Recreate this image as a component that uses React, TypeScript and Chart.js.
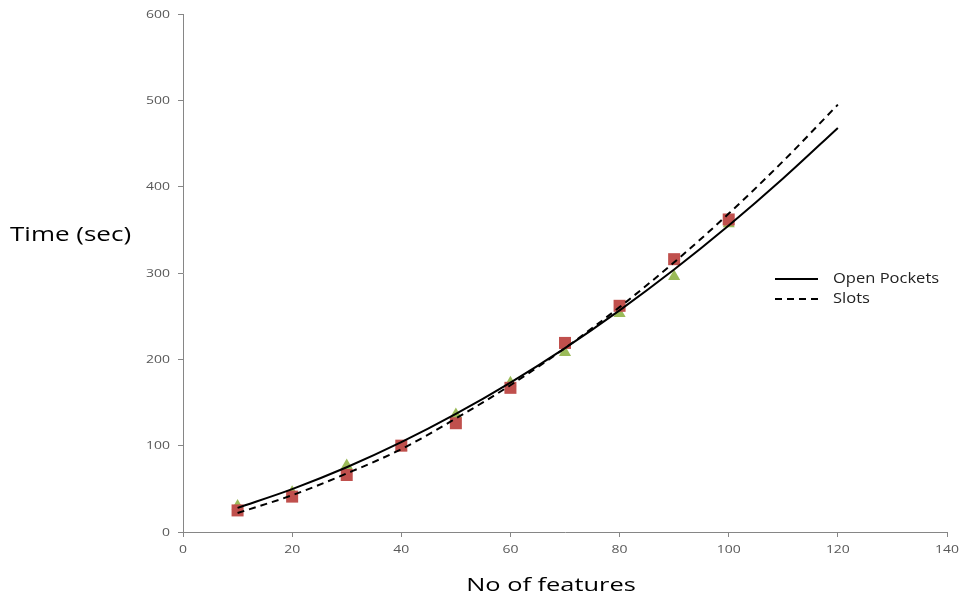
import React, { useEffect, useRef } from "react";
import { Chart, registerables } from "chart.js";

Chart.register(...registerables);

const xFeatures = [10, 20, 30, 40, 50, 60, 70, 80, 90, 100];
const openPocketsPoints = [30, 46, 77, 98, 136, 173, 208, 253, 296, 357];
const slotsPoints = [25, 41, 66, 100, 126, 167, 219, 262, 316, 362];

const trendX = [10, 20, 30, 40, 50, 60, 70, 80, 90, 100, 110, 120];
const openPocketsTrend = [28, 49.7, 75, 104, 136.7, 173, 213, 256.7, 304, 355, 409.7, 468];
const slotsTrend = [22, 42.6, 67.8, 96, 131.5, 170, 213, 260.5, 312.4, 368.8, 429.7, 495];

const xTicks = [0, 20, 40, 60, 80, 100, 120, 140];
const yTicks = [0, 100, 200, 300, 400, 500, 600];

const seriesNames = ["Open Pockets", "Slots"];
const yTitle = "Time (sec)";
const xTitle = "No of features";

const FONT = "'Open Sans', 'Noto Sans', sans-serif";

function drawText(ctx: any, text: string, x: number, y: number, align: string, font: string, sx: number, color: string) {
  ctx.save();
  ctx.font = font;
  ctx.fillStyle = color;
  ctx.textBaseline = "middle";
  ctx.textAlign = "left";
  const w = ctx.measureText(text).width * sx;
  let left = x;
  if (align === "center") left = x - w / 2;
  else if (align === "right") left = x - w;
  ctx.translate(left, y);
  ctx.scale(sx, 1);
  ctx.fillText(text, 0, 0);
  ctx.restore();
}

export default function App() {
  const ref = useRef<HTMLCanvasElement | null>(null);

  useEffect(() => {
    if (!ref.current) return;
    const toXY = (xs: number[], ys: number[]) => xs.map((x, i) => ({ x, y: ys[i] }));

    const overlay = {
      id: "overlay",
      afterDraw(chart: any) {
        const ctx = chart.ctx;
        const xs = chart.scales.x;
        const ys = chart.scales.y;
        const tickFont = `11px ${FONT}`;
        xTicks.forEach((v) => {
          drawText(ctx, String(v), xs.getPixelForValue(v), 549.5, "center", tickFont, 1.27, "#595959");
        });
        yTicks.forEach((v) => {
          drawText(ctx, String(v), 170, ys.getPixelForValue(v) + 0.5, "right", tickFont, 1.27, "#595959");
        });

        drawText(ctx, yTitle, 10, 235, "left", `20px ${FONT}`, 1.3, "#000");
        drawText(ctx, xTitle, 551, 586, "center", `18px ${FONT}`, 1.41, "#000");

        const rows = [
          { y: 279, dash: [] as number[] },
          { y: 299, dash: [7, 5] },
        ];
        rows.forEach((r, i) => {
          ctx.save();
          ctx.beginPath();
          ctx.setLineDash(r.dash);
          ctx.strokeStyle = "#000";
          ctx.lineWidth = 2;
          ctx.moveTo(775, r.y);
          ctx.lineTo(818, r.y);
          ctx.stroke();
          ctx.restore();
          drawText(ctx, seriesNames[i], 833, r.y, "left", `14px ${FONT}`, 1.18, "#222");
        });
      },
    };

    const chart = new Chart(ref.current, {
      type: "scatter",
      data: {
        datasets: [
          {
            type: "line",
            label: seriesNames[0],
            data: toXY(trendX, openPocketsTrend),
            borderColor: "#000",
            borderWidth: 2,
            pointRadius: 0,
            cubicInterpolationMode: "monotone",
            fill: false,
            order: 0,
          } as any,
          {
            type: "line",
            label: seriesNames[1],
            data: toXY(trendX, slotsTrend),
            borderColor: "#000",
            borderWidth: 2,
            borderDash: [7, 5],
            pointRadius: 0,
            cubicInterpolationMode: "monotone",
            fill: false,
            order: 1,
          } as any,
          {
            label: "Open Pockets data",
            data: toXY(xFeatures, openPocketsPoints),
            pointStyle: "triangle",
            pointRadius: 7,
            backgroundColor: "#9bbb59",
            borderColor: "#9bbb59",
            borderWidth: 0,
            order: 3,
          } as any,
          {
            label: "Slots data",
            data: toXY(xFeatures, slotsPoints),
            pointStyle: "rect",
            pointRadius: 8.5,
            backgroundColor: "#c0504d",
            borderColor: "#c0504d",
            borderWidth: 0,
            order: 2,
          } as any,
        ],
      },
      options: {
        animation: false,
        responsive: false,
        maintainAspectRatio: false,
        layout: { padding: { left: 0, right: 17, top: 14, bottom: 0 } },
        plugins: {
          legend: { display: false },
          tooltip: { enabled: false },
        },
        scales: {
          x: {
            type: "linear",
            min: 0,
            max: 140,
            afterBuildTicks: (s: any) => {
              s.ticks = xTicks.map((v) => ({ value: v }));
            },
            afterFit: (s: any) => {
              s.height = 67;
            },
            ticks: { display: false },
            grid: {
              display: true,
              drawOnChartArea: false,
              drawTicks: true,
              tickLength: 5,
              color: "#868686",
            },
            border: { display: true, color: "#868686", width: 1 },
          },
          y: {
            type: "linear",
            min: 0,
            max: 600,
            afterBuildTicks: (s: any) => {
              s.ticks = yTicks.map((v) => ({ value: v }));
            },
            afterFit: (s: any) => {
              s.width = 183;
            },
            ticks: { display: false },
            grid: {
              display: true,
              drawOnChartArea: false,
              drawTicks: true,
              tickLength: 5,
              color: "#868686",
            },
            border: { display: true, color: "#868686", width: 1 },
          },
        },
      },
      plugins: [overlay],
    } as any);

    return () => chart.destroy();
  }, []);

  return (
    <div style={{ position: "absolute", left: 0, top: 0, width: 964, height: 599, background: "#fff" }}>
      <canvas ref={ref} width={964} height={599} style={{ width: 964, height: 599, display: "block" }} />
    </div>
  );
}
